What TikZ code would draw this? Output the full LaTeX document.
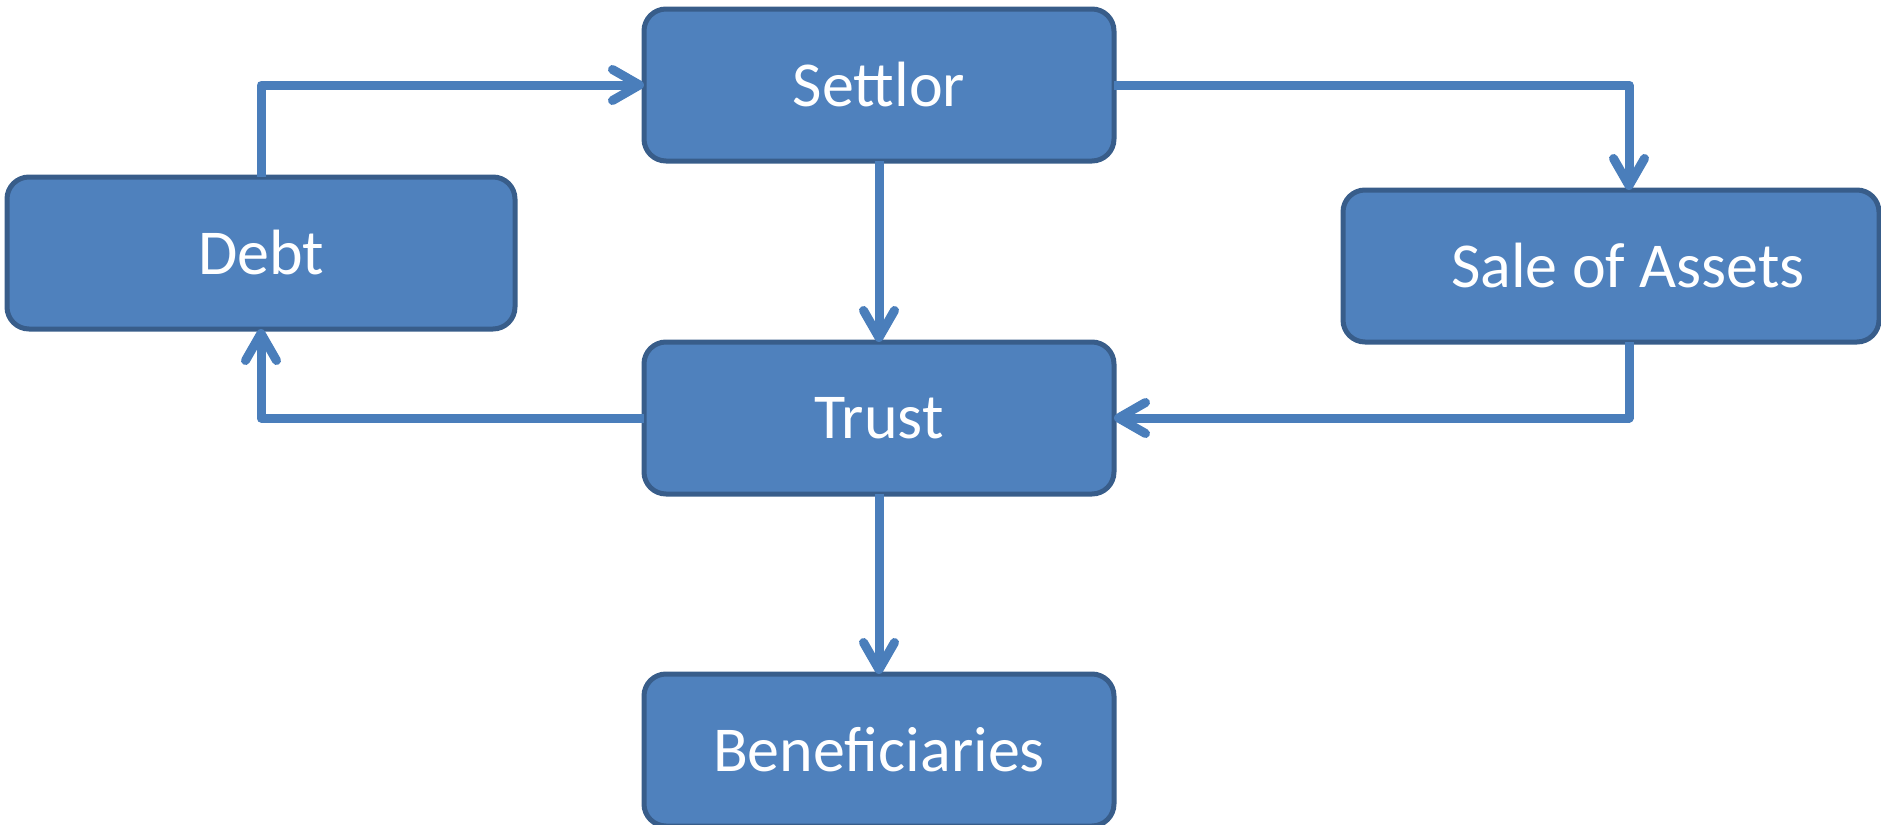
\documentclass[tikz,border=0pt]{standalone}
\usepackage{fontspec}
\setmainfont{Carlito}
\usepackage{tikz}
\usetikzlibrary{arrows.meta}

\definecolor{boxfill}{HTML}{4F81BD}
\definecolor{boxline}{HTML}{385D8A}
\definecolor{arrowblue}{HTML}{4A7EBB}

\begin{document}
\begin{tikzpicture}[x=0.5pt,y=-0.5pt,
    block/.style={draw=boxline,fill=boxfill,line width=2.5pt,rounded corners=11pt,
      minimum width=235pt,minimum height=76pt,text=white,font=\fontsize{32}{38}\selectfont,outer sep=0pt},
    conn/.style={draw=arrowblue,line width=4.5pt,line join=round,
      -{Straight Barb[length=13.5pt,width=15.5pt,line cap=round,line join=round]}}]
    \useasboundingbox (0,0) rectangle (1881,825);
    \node[block] (settlor) at (879,85) {Settlor};
    \node[block,minimum width=254pt] (debt) at (261,253) {Debt};
    \node[block,minimum width=268pt] (sale) at (1611,266) {\hspace*{17pt}Sale of Assets};
    \node[block] (trust) at (879,418) {Trust};
    \node[block] (benef) at (879,750) {Beneficiaries};
    \coordinate (salemid) at (1629,266);
    \draw[conn] (debt.north) |- (settlor.west);
    \draw[conn] (settlor.east) -| (salemid |- sale.north);
    \draw[conn] (settlor.south) -- (trust.north);
    \draw[conn] (salemid |- sale.south) |- (trust.east);
    \draw[conn] (trust.west) -| (debt.south);
    \draw[conn] (trust.south) -- (benef.north);
\end{tikzpicture}
\end{document}
